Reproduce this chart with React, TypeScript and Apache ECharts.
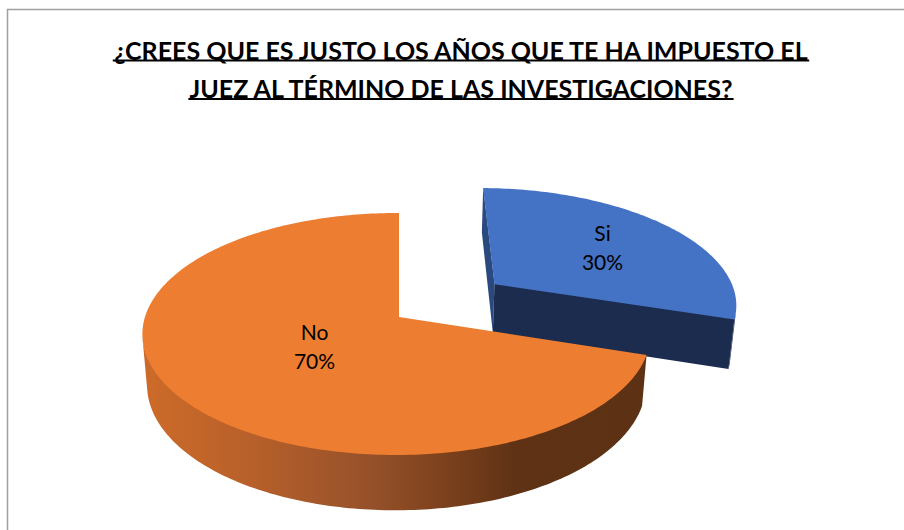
import React, { useEffect, useRef } from 'react';
import * as echarts from 'echarts';

// ---------- data ----------
const categories: string[] = ['Si', 'No'];
const values: number[] = [30, 70];
const titleLines: string[] = [
  '¿CREES QUE ES JUSTO LOS AÑOS QUE TE HA IMPUESTO EL',
  'JUEZ AL TÉRMINO DE LAS INVESTIGACIONES?',
];

// ---------- styles ----------
const topColors = ['#4472C4', '#ED7D31'];
const startFaceColors = ['#2A4A7F', '#B8612A'];
const endFaceColors = ['#1B2C4E', '#5E3215'];
const wallStops: { offset: number; color: string }[][] = [
  [
    { offset: 0, color: '#22386A' },
    { offset: 1, color: '#1B2C4E' },
  ],
  [
    { offset: 0, color: '#CD6B29' },
    { offset: 0.2, color: '#B9612A' },
    { offset: 0.45, color: '#96512A' },
    { offset: 0.6, color: '#7C411D' },
    { offset: 0.74, color: '#5F3215' },
    { offset: 1, color: '#5C3114' },
  ],
];
const explode = [0.49, 0];
const labelRadius = [0.61, 0.4];

// projection (pseudo-perspective view of the pie disc)
const P = { cx: 399, cy: 317, a: 251.5, b: 118.6, c: 51, k: 0.1405, m: 0.01, n: 0.018 };
function proj(X: number, Z: number, Y: number): number[] {
  const w = 1 + P.k * Z + P.m * X - P.n * Y;
  return [P.cx + (P.a * X) / w, P.cy - (P.b * Z + P.c * Y) / w];
}
function area(pts: number[][]): number {
  let s = 0;
  for (let i = 0; i < pts.length; i++) {
    const p = pts[i];
    const q = pts[(i + 1) % pts.length];
    s += p[0] * q[1] - q[0] * p[1];
  }
  return s;
}

const TITLE_FONT = 'Lato';
const TITLE_SIZE = 25;
const LABEL_FONT = 'Lato';

export default function App() {
  const ref = useRef<HTMLDivElement>(null);
  useEffect(() => {
    if (!ref.current) return;
    const chart = echarts.init(ref.current, undefined, { renderer: 'svg' });
    const total = values.reduce((s, v) => s + v, 0);

    const renderItem = (params: any, api: any) => {
      const idx = params.dataIndex;
      const v = api.value(0) as number;
      let acc = 0;
      for (let i = 0; i < idx; i++) acc += values[i];
      const t0 = (acc / total) * Math.PI * 2;
      const t1 = ((acc + v) / total) * Math.PI * 2;
      const mid = (t0 + t1) / 2;
      const e = explode[idx];
      const ox = e * Math.sin(mid);
      const oz = e * Math.cos(mid);
      const pt = (r: number, th: number, Y: number) =>
        proj(ox + r * Math.sin(th), oz + r * Math.cos(th), Y);
      const N = Math.max(2, Math.ceil(((t1 - t0) * 180) / Math.PI));
      const th = (i: number) => t0 + ((t1 - t0) * i) / N;
      const children: any[] = [];

      // radial faces
      const sFace = [pt(0, t0, 0.02), pt(1, t0, 0.02), pt(1, t0, -1), pt(0, t0, -1)];
      if (area([pt(0, t0, 0), pt(1, t0, 0), pt(1, t0, -1), pt(0, t0, -1)]) < -1) {
        children.push({ type: 'polygon', shape: { points: sFace }, style: { fill: startFaceColors[idx] } });
      }
      const eFace = [pt(1, t1, 0.02), pt(0, t1, 0.02), pt(0, t1, -1), pt(1, t1, -1)];
      if (area([pt(1, t1, 0), pt(0, t1, 0), pt(0, t1, -1), pt(1, t1, -1)]) < -1) {
        children.push({ type: 'polygon', shape: { points: eFace }, style: { fill: endFaceColors[idx] } });
      }

      // outer wall (visible runs)
      const vis: boolean[] = [];
      for (let i = 0; i < N; i++) {
        vis.push(area([pt(1, th(i), 0), pt(1, th(i + 1), 0), pt(1, th(i + 1), -1), pt(1, th(i), -1)]) < 0);
      }
      let i = 0;
      while (i < N) {
        if (!vis[i]) { i++; continue; }
        let j = i;
        while (j < N && vis[j]) j++;
        const pts: number[][] = [];
        for (let q = i; q <= j; q++) pts.push(pt(1, th(q), 0.03));
        for (let q = j; q >= i; q--) pts.push(pt(1, th(q), -1));
        children.push({
          type: 'polygon',
          shape: { points: pts },
          style: { fill: new echarts.graphic.LinearGradient(0, 0, 1, 0, wallStops[idx]) },
        });
        i = j;
      }

      // top face
      const topPts: number[][] = [pt(0, t0, 0)];
      for (let q = 0; q <= N; q++) topPts.push(pt(1, th(q), 0));
      children.push({ type: 'polygon', shape: { points: topPts }, style: { fill: topColors[idx] } });

      // label
      const lp = pt(labelRadius[idx], mid, 0);
      const pct = Math.round((v / total) * 100) + '%';
      children.push({
        type: 'text',
        style: {
          text: categories[idx] + '\n' + pct,
          x: lp[0],
          y: lp[1],
          align: 'center',
          verticalAlign: 'middle',
          fontSize: 21,
          lineHeight: 29,
          fontFamily: LABEL_FONT,
          fill: '#000000',
        },
      });
      return { type: 'group', children };
    };

    // title + underline
    const ctx = document.createElement('canvas').getContext('2d')!;
    ctx.font = `bold ${TITLE_SIZE}px ${TITLE_FONT}`;
    const titleCx = 461;
    const titleYs = [49.5, 88];
    const underYs = [60.5, 99];
    const graphics: any[] = [
      {
        type: 'rect',
        shape: { x: 7.5, y: 9.5, width: 910, height: 540 },
        style: { fill: 'none', stroke: '#A0A0A0', lineWidth: 1.5 },
        silent: true,
      },
    ];
    titleLines.forEach((t, k) => {
      const w = ctx.measureText(t).width;
      graphics.push({
        type: 'text',
        style: {
          text: t,
          x: titleCx,
          y: titleYs[k],
          align: 'center',
          verticalAlign: 'middle',
          fontSize: TITLE_SIZE,
          fontWeight: 'bold',
          fontFamily: TITLE_FONT,
          fill: '#000000',
        },
      });
      graphics.push({
        type: 'line',
        shape: { x1: titleCx - w / 2, y1: underYs[k], x2: titleCx + w / 2, y2: underYs[k] },
        style: { stroke: '#000000', lineWidth: 2 },
      });
    });

    chart.setOption({
      animation: false,
      backgroundColor: '#ffffff',
      graphic: graphics,
      series: [
        {
          type: 'custom',
          coordinateSystem: 'none',
          renderItem,
          silent: true,
          data: categories.map((c, k) => ({ name: c, value: [values[k]] })),
        },
      ],
    });
    return () => chart.dispose();
  }, []);
  return (
    <div
      ref={ref}
      style={{ position: 'absolute', left: 0, top: 0, width: 904, height: 530 }}
    />
  );
}
